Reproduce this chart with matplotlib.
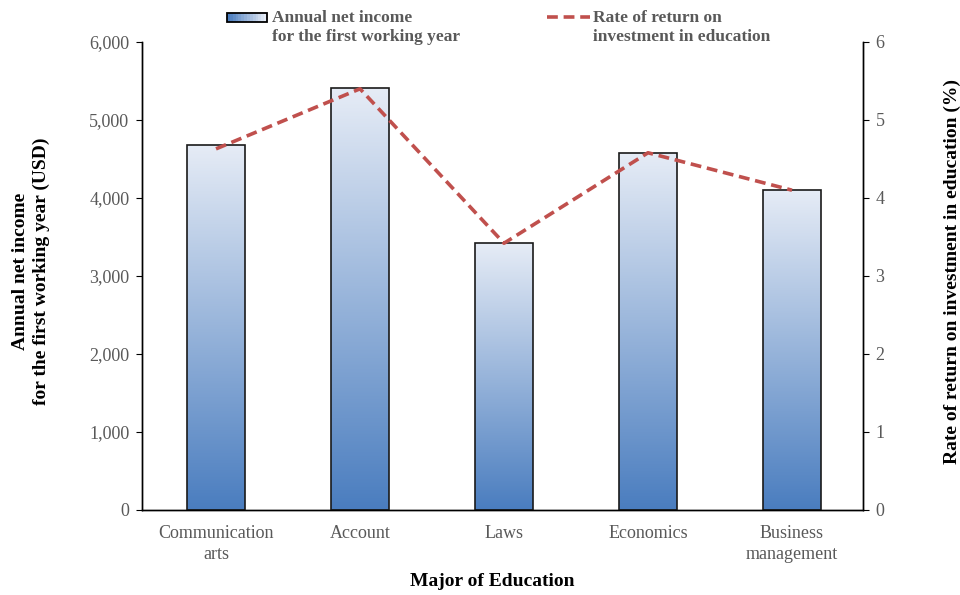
import numpy as np
import matplotlib.pyplot as plt
from matplotlib.patches import Rectangle
from matplotlib.lines import Line2D
from matplotlib.colors import LinearSegmentedColormap

majors = ['Communication\narts', 'Account', 'Laws', 'Economics', 'Business\nmanagement']
income = [4680, 5410, 3420, 4580, 4105]
returns = [4.63, 5.40, 3.42, 4.58, 4.10]

plt.rcParams['font.family'] = ['Liberation Serif', 'DejaVu Serif']
grey = '#595959'
red = '#c0504d'
dash = (0, (3, 1.6))
cmap = LinearSegmentedColormap.from_list('bar', ['#4a7dbf', '#e6ecf6'])

fig = plt.figure(figsize=(9.6, 5.95), dpi=100)
ax = fig.add_axes([142 / 960, 1 - 510 / 595, 721 / 960, 468 / 595])
ax2 = ax.twinx()

x = np.arange(len(majors))
width = 0.4
grad = np.linspace(0, 1, 256).reshape(-1, 1)
bars = ax.bar(x, income, width=width, facecolor='none', edgecolor='#1a1a1a', lw=1.2, zorder=3)
for b in bars:
    # vertical gradient fill clipped to each bar
    im = ax.imshow(grad, cmap=cmap, aspect='auto', origin='lower',
                   extent=[b.get_x(), b.get_x() + b.get_width(), 0, b.get_height()], zorder=2)
    im.set_clip_path(b)

ax.set_xlim(-0.514, len(majors) - 0.507)
ax.set_ylim(0, 6000)
ax.set_yticks(range(0, 6001, 1000))
ax.set_yticklabels([f'{v:,}' for v in range(0, 6001, 1000)])
ax.set_xticks(x)
ax.set_xticklabels(majors, linespacing=1.3)

ax2.plot(x, returns, color=red, lw=2.6, ls=dash, zorder=4)
ax2.set_ylim(0, 6)
ax2.set_yticks(range(0, 7))

for a in (ax, ax2):
    a.spines['top'].set_visible(False)
    for s in a.spines.values():
        s.set_color('black')
        s.set_linewidth(1)
    a.tick_params(axis='both', labelsize=13, labelcolor=grey, color='black', length=4, pad=5)
ax.tick_params(axis='x', length=0, pad=11)

fig.text(492 / 960, 1 - 581 / 595, 'Major of Education', fontsize=14, fontweight='bold',
         ha='center', va='center')
fig.text(31 / 960, 1 - 271 / 595, 'Annual net income\nfor the first working year (USD)',
         fontsize=14, fontweight='bold', rotation=90, ha='center', va='center',
         linespacing=1.25)
fig.text(952 / 960, 1 - 272 / 595, 'Rate of return on investment in education (%)',
         fontsize=14, fontweight='bold', rotation=90, ha='center', va='center')

# legend drawn by hand above the plot
n = 14
kx, ky, kw, kh = 227 / 960, 1 - 22 / 595, 40 / 960, 9 / 595
for i in range(n):
    fig.patches.append(Rectangle((kx + kw * i / n, ky), kw / n, kh,
                                 facecolor=cmap(i / (n - 1)), edgecolor='none',
                                 transform=fig.transFigure))
fig.patches.append(Rectangle((kx, ky), kw, kh, facecolor='none',
                             edgecolor='black', lw=1.3, transform=fig.transFigure))
fig.lines.append(Line2D([547 / 960, 590 / 960], [1 - 17 / 595, 1 - 17 / 595], color=red,
                        lw=2.6, ls=dash, transform=fig.transFigure))
fig.text(272 / 960, 1 - 10 / 595, 'Annual net income\nfor the first working year', fontsize=12.5,
         fontweight='bold', color=grey, ha='left', va='top', linespacing=1.25)
fig.text(593 / 960, 1 - 10 / 595, 'Rate of return on\ninvestment in education', fontsize=12.5,
         fontweight='bold', color=grey, ha='left', va='top', linespacing=1.25)

fig.savefig('out.png', dpi=100)
